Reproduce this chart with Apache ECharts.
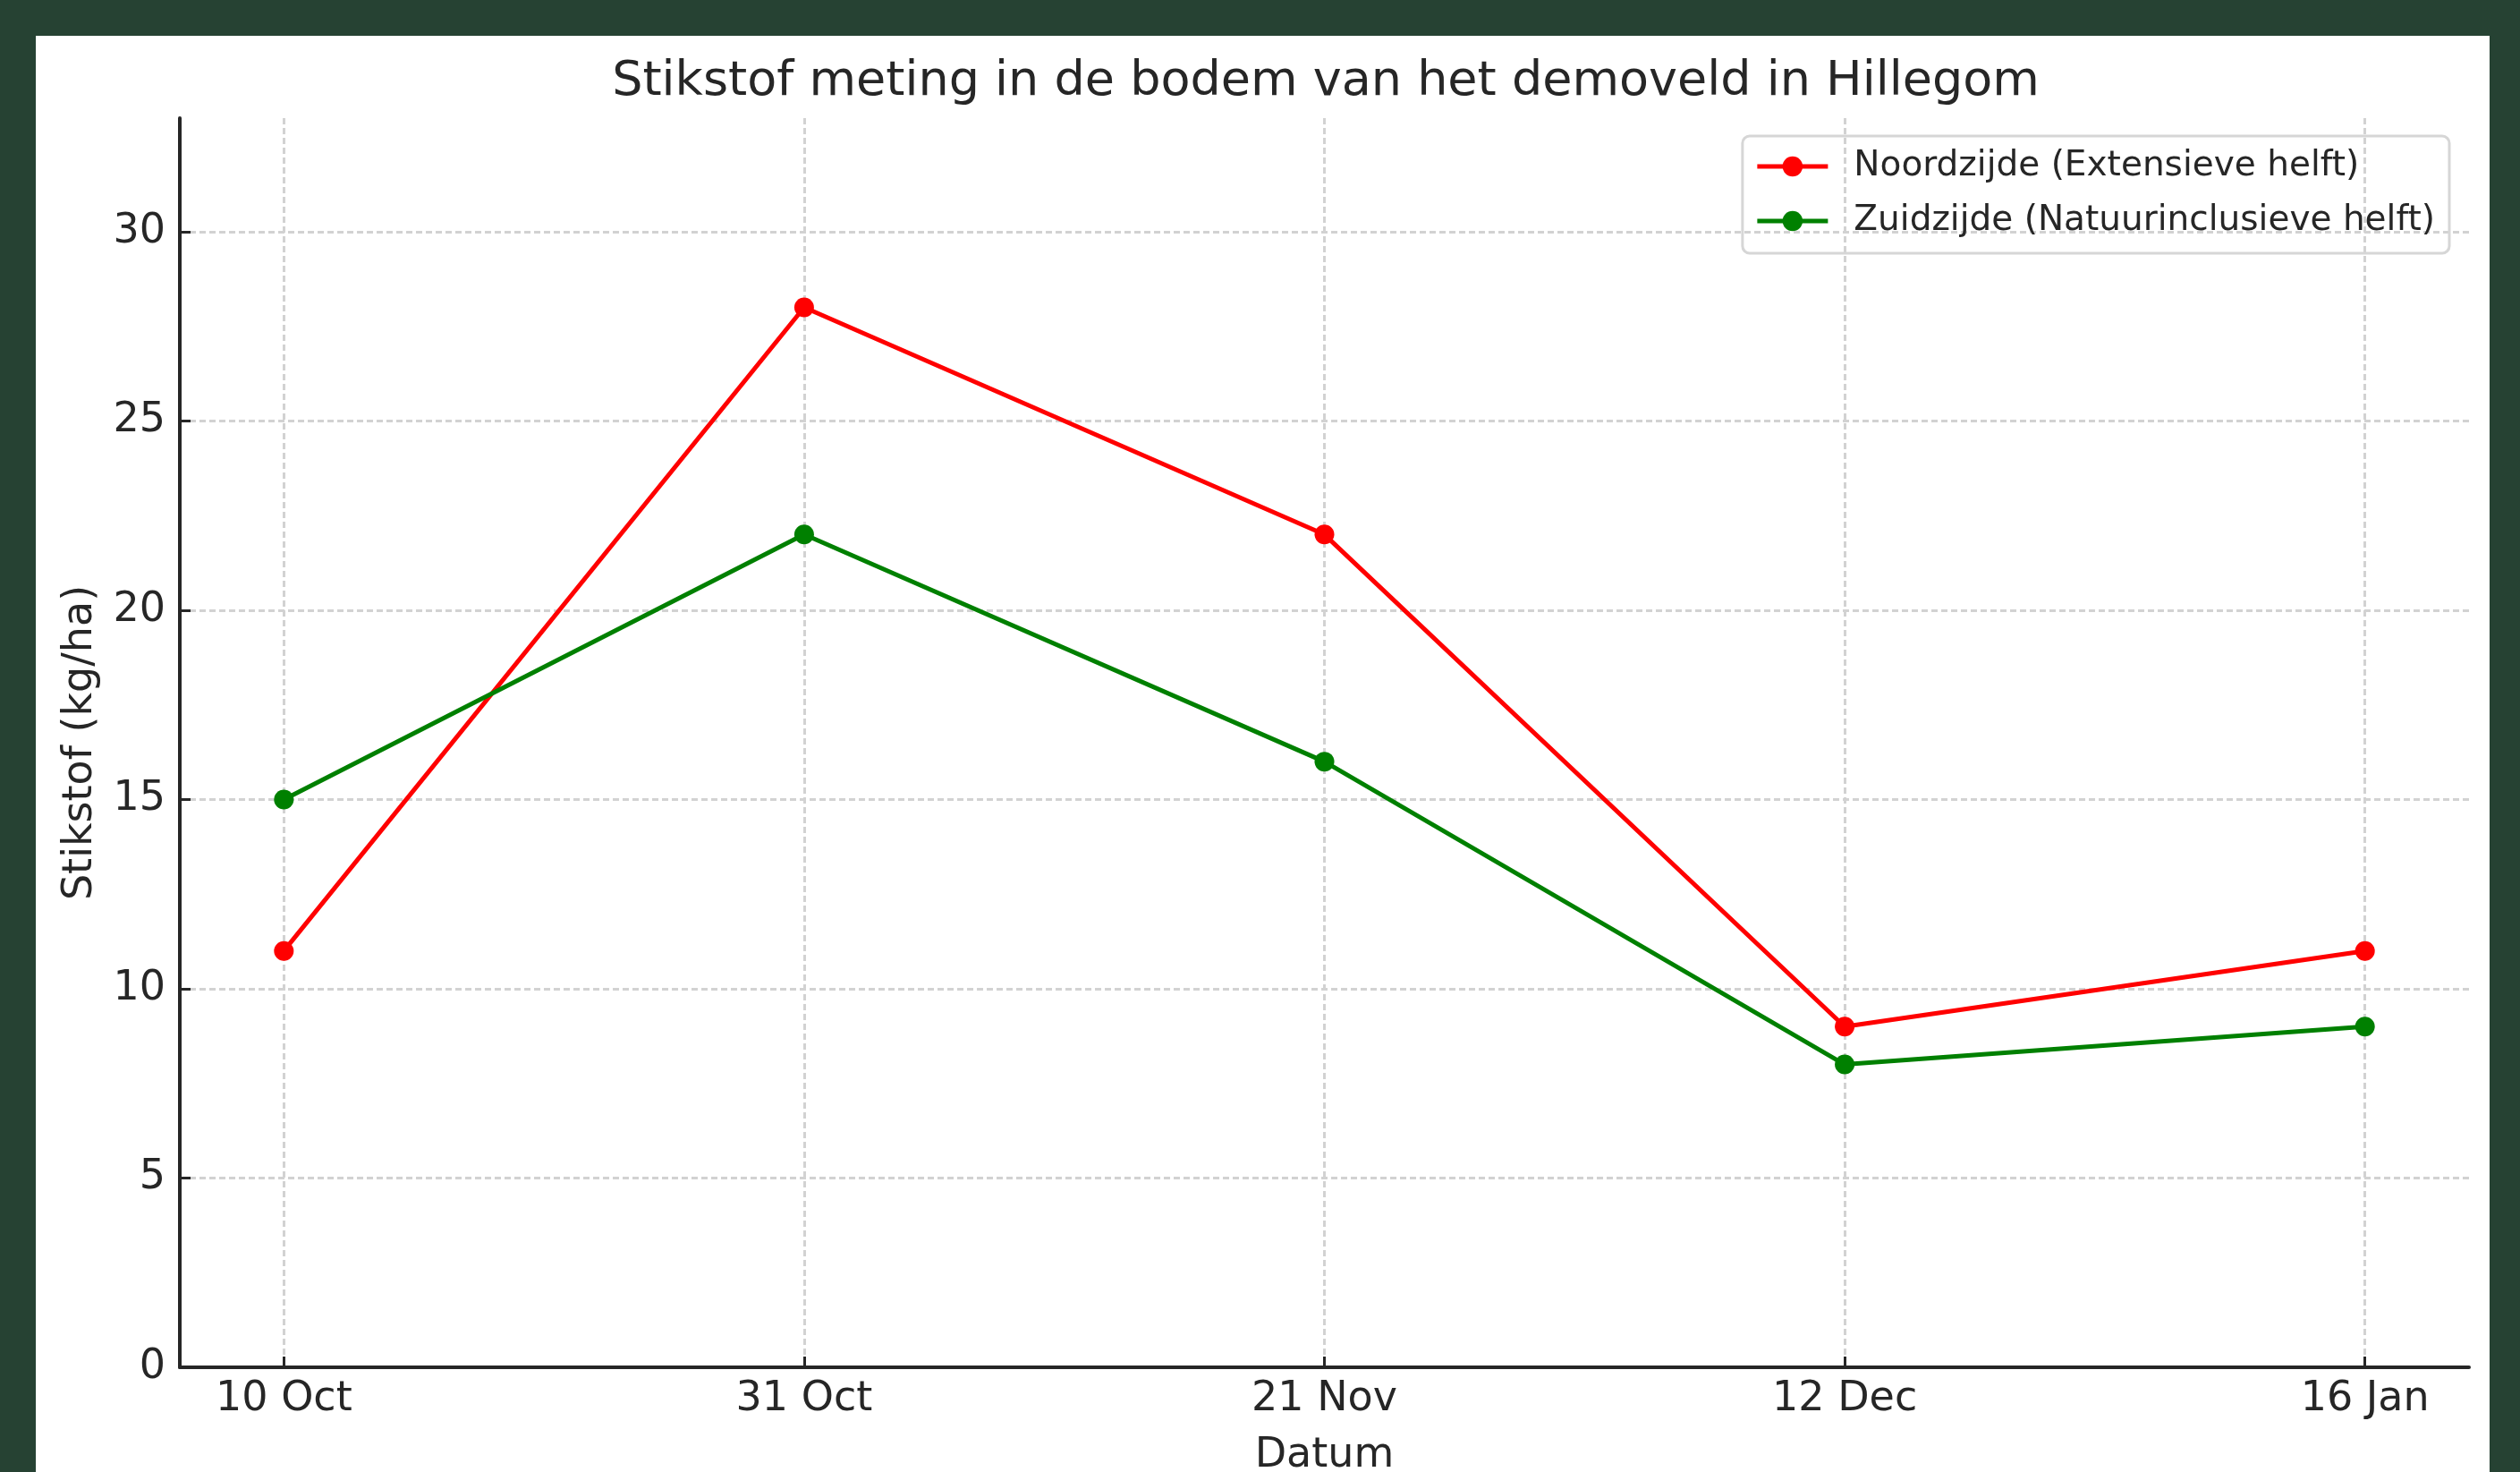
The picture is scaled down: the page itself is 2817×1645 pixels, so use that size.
<!DOCTYPE html>
<html>
<head>
<meta charset="utf-8">
<script src="https://cdn.jsdelivr.net/npm/echarts@6/dist/echarts.min.js"></script>
<style>
  html, body { margin: 0; padding: 0; background: #264233; }
  #chart { position: absolute; left: 40px; top: 40px; width: 2743px; height: 1605px; background: #fff; }
</style>
</head>
<body>
<div id="chart"></div>
<script>
const dates = ['10 Oct', '31 Oct', '21 Nov', '12 Dec', '16 Jan']
const noord = [11, 28, 22, 9, 11]
const zuid = [15, 22, 16, 8, 9]
const yTicks = [0, 5, 10, 15, 20, 25, 30]

const FONT = 'DejaVu Sans'
const INK = '#262626'
const idx = dates.map((d, i) => i)

const chart = echarts.init(document.getElementById('chart'))

const gridLine = { show: true, lineStyle: { color: '#d2d2d2', width: 3, type: [7, 4] } }

chart.setOption({
  animation: false,
  title: {
    text: 'Stikstof meting in de bodem van het demoveld in Hillegom',
    left: 1437,
    top: 20,
    textAlign: 'center',
    textStyle: { fontFamily: FONT, fontSize: 54, fontWeight: 'normal', color: INK }
  },
  legend: {
    orient: 'vertical',
    right: 45,
    top: 112,
    padding: [12, 16, 14, 14],
    itemGap: 17,
    itemWidth: 79,
    itemHeight: 28,
    lineStyle: { width: 5 },
    borderColor: '#d6d6d6',
    borderWidth: 3,
    borderRadius: 8,
    textStyle: { fontFamily: FONT, fontSize: 39, color: INK, lineHeight: 44, padding: [0, 0, 0, 24] }
  },
  grid: { left: 161, right: 23, top: 92, bottom: 117, outerBoundsMode: 'none' },
  xAxis: {
    type: 'value',
    min: -0.2,
    max: 4.2,
    name: 'Datum',
    nameLocation: 'middle',
    nameGap: 76,
    nameTextStyle: { fontFamily: FONT, fontSize: 46, color: INK },
    axisLine: { onZero: false, lineStyle: { color: INK, width: 4 } },
    axisTick: { show: true, inside: true, length: 12, lineStyle: { color: INK, width: 3 }, customValues: idx },
    axisLabel: {
      customValues: idx,
      margin: 13,
      fontFamily: FONT, fontSize: 46, color: INK,
      formatter: v => dates[Math.round(v)]
    },
    splitLine: gridLine
  },
  yAxis: {
    type: 'value',
    min: 0,
    max: 33,
    name: 'Stikstof (kg/ha)',
    nameLocation: 'middle',
    nameGap: 88,
    nameRotate: 90,
    nameTextStyle: { fontFamily: FONT, fontSize: 46, color: INK },
    axisLine: { show: true, onZero: false, lineStyle: { color: INK, width: 4 } },
    axisTick: { show: true, inside: true, length: 12, lineStyle: { color: INK, width: 3 }, customValues: yTicks },
    axisLabel: { customValues: yTicks, margin: 16, fontFamily: FONT, fontSize: 46, color: INK },
    splitLine: gridLine
  },
  series: [
    {
      name: 'Noordzijde (Extensieve helft)',
      type: 'line',
      data: noord.map((v, i) => [idx[i], v]),
      symbol: 'circle',
      symbolSize: 22,
      lineStyle: { color: '#ff0000', width: 5 },
      itemStyle: { color: '#ff0000' }
    },
    {
      name: 'Zuidzijde (Natuurinclusieve helft)',
      type: 'line',
      data: zuid.map((v, i) => [idx[i], v]),
      symbol: 'circle',
      symbolSize: 22,
      lineStyle: { color: '#008000', width: 5 },
      itemStyle: { color: '#008000' }
    }
  ]
})
</script>
</body>
</html>
